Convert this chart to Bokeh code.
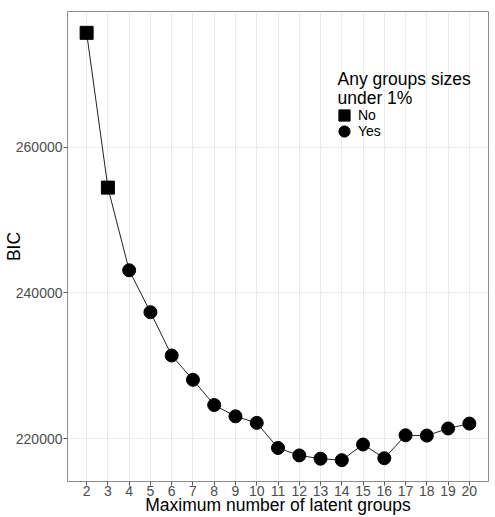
from bokeh.plotting import figure
from bokeh.models import Range1d, FixedTicker, Legend, LegendItem, Label
from bokeh.embed import file_html
from bokeh.resources import INLINE

# data
groups_no = [2, 3]
bic_no = [275700, 254450]
groups_yes = [4, 5, 6, 7, 8, 9, 10, 11, 12, 13, 14, 15, 16, 17, 18, 19, 20]
bic_yes = [243100, 237350, 231400, 228070, 224600, 223050, 222150, 218700,
           217680, 217230, 217030, 219180, 217300, 220450, 220400, 221380, 222050]
x_ticks = list(range(2, 21))
y_ticks = [220000, 240000, 260000]
legend_title_lines = ["Any groups sizes", "under 1%"]
legend_labels = ["No", "Yes"]
x_title = "Maximum number of latent groups"
y_title = "BIC"

all_x = groups_no + groups_yes
all_y = bic_no + bic_yes

FONT = "Liberation Sans"
W, H = 495, 517
FL, FR, FT, FB = 67, 7, 11, 36  # borders

p = figure(width=W, height=H, output_backend="svg", toolbar_location=None,
           x_range=Range1d(1.1, 20.9), y_range=Range1d(214100, 278630),
           min_border_left=FL, min_border_right=FR, min_border_top=FT, min_border_bottom=FB)

p.background_fill_color = "white"
p.border_fill_color = "white"
p.outline_line_color = "#8c8c8c"
p.outline_line_width = 1

p.xaxis.ticker = FixedTicker(ticks=x_ticks)
p.yaxis.ticker = FixedTicker(ticks=y_ticks)
p.yaxis.formatter.use_scientific = False
p.xaxis.axis_label = x_title
p.yaxis.axis_label = y_title

for ax in (p.xaxis, p.yaxis):
    ax.axis_line_color = None
    ax.major_tick_line_color = "#555555"
    ax.major_tick_in = 0
    ax.major_tick_out = 4
    ax.minor_tick_line_color = None
    ax.major_label_text_font = FONT
    ax.major_label_text_font_size = "14px"
    ax.major_label_text_color = "#4d4d4d"
    ax.axis_label_text_font = FONT
    ax.axis_label_text_font_size = "17.5px"
    ax.axis_label_text_font_style = "normal"
    ax.axis_label_text_color = "black"
p.xaxis.major_label_standoff = 0
p.xaxis.axis_label_standoff = -4
p.yaxis.major_label_standoff = 1
p.yaxis.axis_label_standoff = -11

p.xgrid.grid_line_color = "#ebebeb"
p.ygrid.grid_line_color = "#ebebeb"

p.line(all_x, all_y, line_color="#222222", line_width=1)
r_no = p.scatter(groups_no, bic_no, marker="square", size=13, fill_color="black", line_color="black")
r_yes = p.scatter(groups_yes, bic_yes, marker="circle", size=13, fill_color="black", line_color="black")

# legend title
for i, line in enumerate(legend_title_lines):
    p.add_layout(Label(x=270, y=402.5 - 19 * i, x_units="screen", y_units="screen", text=line,
                       text_align="left", text_baseline="alphabetic",
                       text_font=FONT, text_font_size="17.5px", text_color="black"))

common = dict(label_text_font=FONT, label_text_font_size="14px", label_text_color="black",
              glyph_width=28, glyph_height=28, spacing=0, label_standoff=0,
              padding=0, margin=0, background_fill_alpha=0, border_line_color=None)
leg_no = Legend(items=[LegendItem(label=legend_labels[0], renderers=[r_no])],
                location=(263, 352), **common)
leg_yes = Legend(items=[LegendItem(label=legend_labels[1], renderers=[r_yes])],
                 location=(263, 336), **common)
p.add_layout(leg_no, "center")
p.add_layout(leg_yes, "center")

open("out.html", "w").write(file_html(p, INLINE))
